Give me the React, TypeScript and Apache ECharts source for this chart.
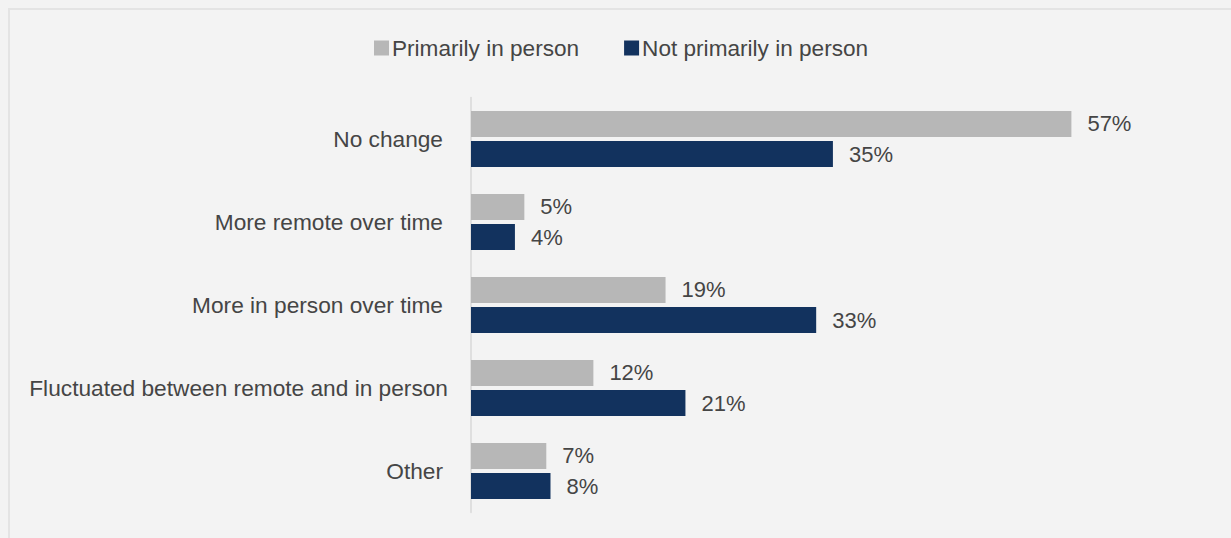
import React, { useEffect, useRef } from "react";
import * as echarts from "echarts";

const categories = [
  "No change",
  "More remote over time",
  "More in person over time",
  "Fluctuated between remote and in person",
  "Other",
];
const seriesNames = ["Primarily in person", "Not primarily in person"];
const primarilyInPerson = [57.4, 5.1, 18.6, 11.7, 7.2];
const notPrimarilyInPerson = [34.6, 4.2, 33.0, 20.5, 7.6];

const FONT = "'Liberation Sans', Arial, sans-serif";
const TEXT = "#454545";

export default function App() {
  const ref = useRef<HTMLDivElement>(null);
  useEffect(() => {
    document.body.style.margin = "0";
    document.body.style.background = "#f3f3f3";
    const chart = echarts.init(ref.current!, null, { renderer: "svg" });
    const longest = categories.reduce((a, b) => (b.length > a.length ? b : a));
    const valueLabel = {
      show: true,
      position: "right",
      distance: 16,
      fontSize: 22,
      color: TEXT,
      fontFamily: FONT,
      formatter: (p: any) => `${Math.round(p.value)}%`,
    };
    chart.setOption({
      animation: false,
      backgroundColor: "transparent",
      textStyle: { fontFamily: FONT },
      legend: {
        left: 374,
        top: 36.5,
        padding: 0,
        itemWidth: 15,
        itemHeight: 15,
        itemGap: 45,
        icon: "rect",
        textStyle: { fontSize: 22.6, color: TEXT, fontFamily: FONT, padding: [0, 0, 0, -2] },
        data: seriesNames,
      },
      grid: { left: 471, top: 97.5, height: 415, right: 132.4, containLabel: false },
      xAxis: {
        type: "value",
        min: 0,
        max: 60,
        show: false,
        splitLine: { show: false },
      },
      yAxis: {
        type: "category",
        data: categories,
        inverse: true,
        axisLine: { show: true, lineStyle: { color: "#d9d9d9", width: 1.5 } },
        axisTick: { show: false },
        axisLabel: {
          margin: 23,
          fontSize: 22.7,
          color: TEXT,
          fontFamily: FONT,
          formatter: (v: string) => (v === longest ? `{l|${v}}` : `{n|${v}}`),
          rich: {
            n: { fontSize: 22.7, color: TEXT, fontFamily: FONT, padding: [0, 5, 0, 0] },
            l: { fontSize: 22.7, color: TEXT, fontFamily: FONT },
          },
        },
      },
      series: [
        {
          name: seriesNames[0],
          type: "bar",
          data: primarilyInPerson,
          barWidth: 26,
          barGap: "16%",
          itemStyle: { color: "#b7b7b7" },
          label: valueLabel,
        },
        {
          name: seriesNames[1],
          type: "bar",
          data: notPrimarilyInPerson,
          barWidth: 26,
          barGap: "16%",
          itemStyle: { color: "#12325e" },
          label: valueLabel,
        },
      ],
    });
    return () => chart.dispose();
  }, []);
  return (
    <div style={{ position: "relative", width: 1231, height: 538, background: "#f3f3f3", overflow: "hidden" }}>
      <div
        style={{
          position: "absolute",
          left: 8,
          top: 8,
          width: 1240,
          height: 550,
          border: "2px solid #e4e4e4",
          boxSizing: "border-box",
        }}
      />
      <div ref={ref} style={{ position: "absolute", left: 0, top: 0, width: 1231, height: 538 }} />
    </div>
  );
}
